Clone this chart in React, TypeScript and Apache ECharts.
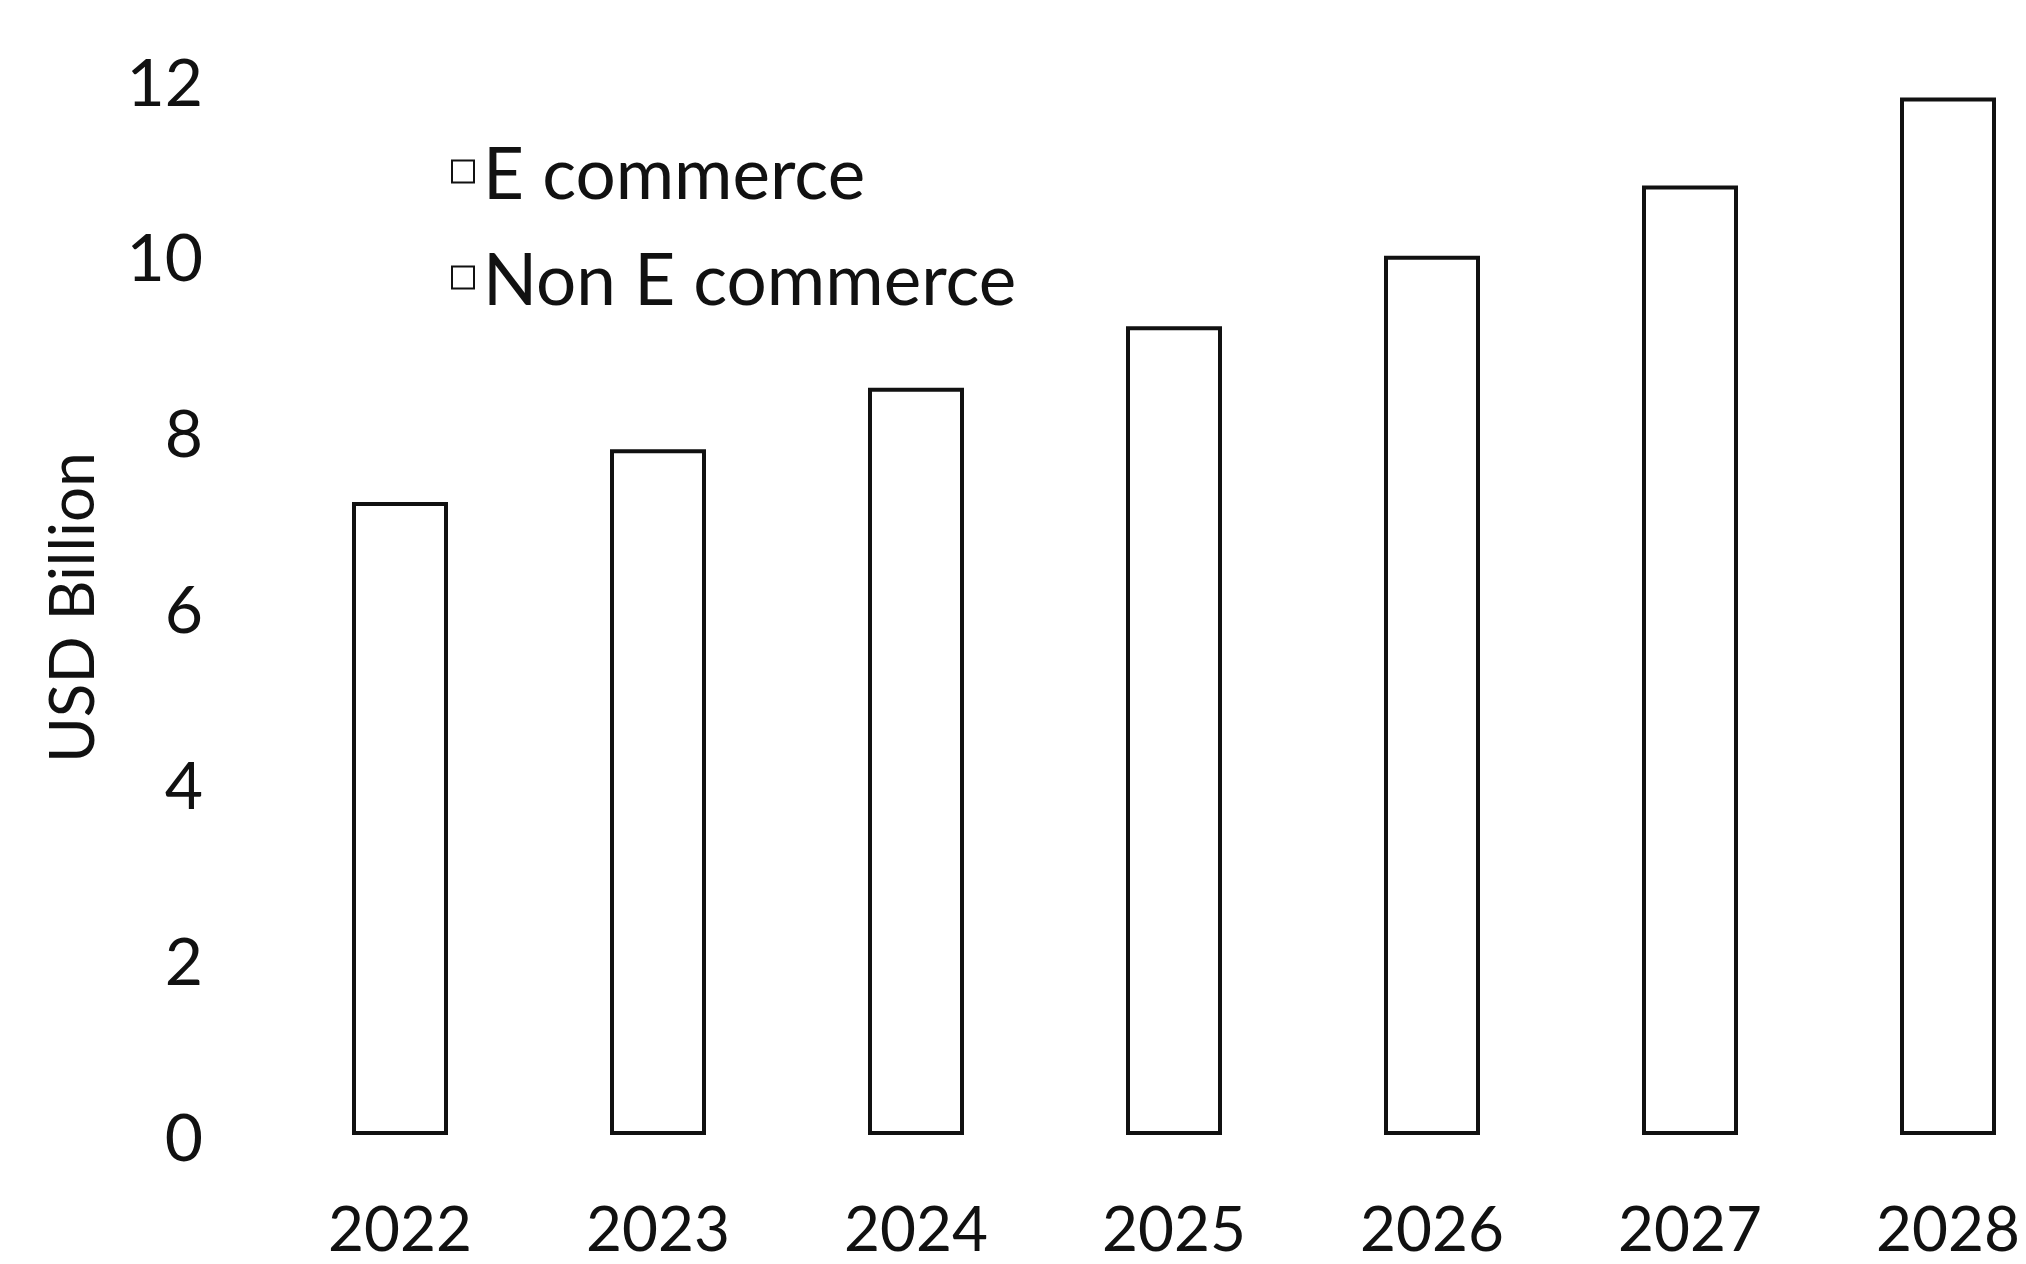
import React, { useEffect, useRef } from "react";
import * as echarts from "echarts";

const years = ["2022", "2023", "2024", "2025", "2026", "2027", "2028"];
// Outlined bar heights (USD Billion); the split between
// the two legend series is not visible in the reference.
const marketTotal = [7.2, 7.8, 8.5, 9.2, 10.0, 10.8, 11.8];
const eCommerce: number[] = [];
const nonECommerce: number[] = [];
const yTicks = [0, 2, 4, 6, 8, 10, 12];
const legendNames = ["E commerce", "Non E commerce"];
const yAxisName = "USD Billion";

const FONT = "Lato, 'Open Sans', sans-serif";

export default function App() {
  const ref = useRef<HTMLDivElement>(null);
  useEffect(() => {
    if (!ref.current) return;
    const chart = echarts.init(ref.current, undefined, { renderer: "svg" });
    const outline = { color: "#ffffff", borderColor: "#111111", borderWidth: 4 };
    chart.setOption({
      animation: false,
      backgroundColor: "#ffffff",
      textStyle: { fontFamily: FONT },
      legend: {
        data: legendNames,
        orient: "vertical",
        left: 446,
        top: 131,
        itemWidth: 22,
        itemHeight: 22,
        itemGap: 35,
        icon: "rect",
        textStyle: { fontFamily: FONT, fontSize: 71, color: "#111111", padding: [0, 0, 0, 4] },
      },
      grid: { left: 271, width: 1806, top: 80, bottom: 129, containLabel: false },
      xAxis: {
        type: "category",
        data: years,
        axisLine: { show: false },
        axisTick: { show: false },
        axisLabel: {
          fontFamily: FONT,
          fontSize: 62,
          lineHeight: 50,
          color: "#111111",
          margin: 67,
        },
        splitLine: { show: false },
      },
      yAxis: {
        type: "value",
        min: yTicks[0],
        max: yTicks[yTicks.length - 1],
        interval: 2,
        name: yAxisName,
        nameLocation: "middle",
        nameRotate: 90,
        nameGap: 170,
        nameTextStyle: { fontFamily: FONT, fontSize: 62, color: "#111111" },
        axisLine: { show: false },
        axisTick: { show: false },
        splitLine: { show: false },
        axisLabel: { fontFamily: FONT, fontSize: 66, color: "#111111", margin: 68 },
      },
      series: [
        { name: legendNames[0], type: "bar", stack: "s", data: eCommerce, itemStyle: outline },
        { name: legendNames[1], type: "bar", stack: "s", data: nonECommerce, itemStyle: outline },
        {
          name: "Total",
          type: "bar",
          data: marketTotal,
          barWidth: 96,
          barGap: "-100%",
          itemStyle: outline,
        },
      ],
    });
    return () => chart.dispose();
  }, []);
  return (
    <div
      style={{
        position: "absolute",
        left: 0,
        top: 0,
        width: 2026,
        height: 1264,
        overflow: "hidden",
        background: "#fff",
      }}
    >
      <div ref={ref} style={{ width: 2080, height: 1264 }} />
    </div>
  );
}
